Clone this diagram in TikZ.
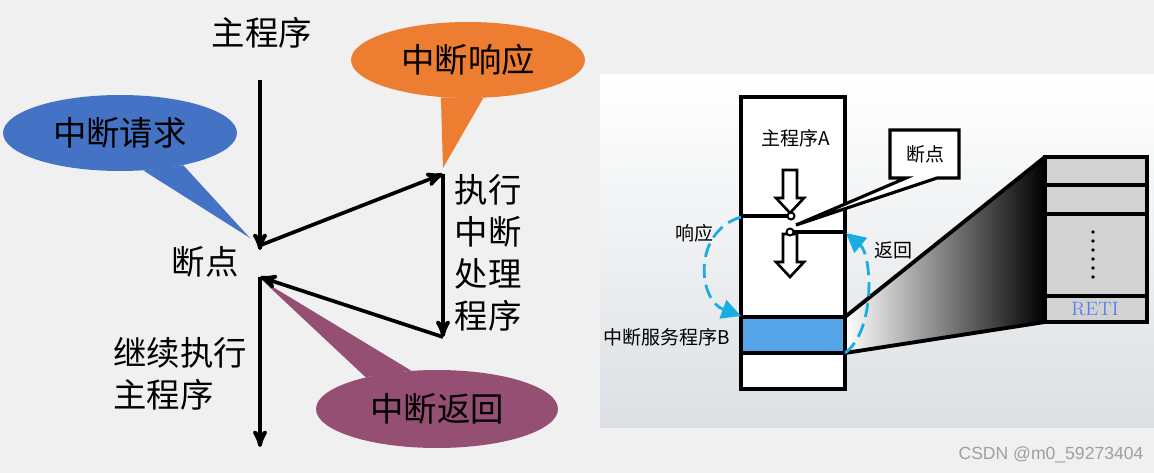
\documentclass[tikz,border=0pt]{standalone}
\usepackage{fontspec}
\newfontfamily\cjk{Noto Sans CJK SC}
\newfontfamily\wmfont{Liberation Sans}
\usetikzlibrary{arrows}
\usetikzlibrary{arrows.meta}
\usetikzlibrary{positioning}
\usetikzlibrary{shapes.geometric}
\definecolor{bggray}{HTML}{F0F0F0}
\definecolor{reqblue}{HTML}{4472C4}
\definecolor{ackorange}{HTML}{ED7D31}
\definecolor{retpurple}{HTML}{954F72}
\definecolor{isrblue}{HTML}{55A5E8}
\definecolor{dashcyan}{HTML}{1AADE4}
\definecolor{stackgray}{HTML}{D2D2D2}
\definecolor{retiblue}{HTML}{5B7FE6}
\definecolor{panelbot}{HTML}{DCE0E4}

\begin{document}
\begin{tikzpicture}[x=0.02cm, y=-0.02cm, >=stealth',
    big/.style={font=\cjk\fontsize{19}{23.8}\selectfont, inner sep=0pt},
    small/.style={font=\cjk\fontsize{10.8}{13}\selectfont, inner sep=0pt},
    bubble/.style={ellipse, minimum width=4.68cm, minimum height=1.52cm,
      inner sep=0pt, font=\cjk\fontsize{19}{23}\selectfont},
    flow/.style={line width=2.1pt, ->},
    thickline/.style={line width=2.2pt},
    dasharc/.style={dashcyan, line width=1.6pt, dash pattern=on 8pt off 4pt,
      -{Triangle[length=11pt,width=11pt]}}]
  \useasboundingbox (0,0) rectangle (1154,473);
  \fill[bggray] (0,0) rectangle (1154,473);
  \shade[top color=white, bottom color=panelbot] (600,75) rectangle (1154,427);

  % left: flow of the main program
  \node[bubble, fill=reqblue] (req) at (120,133) {中断请求};
  \coordinate (reqtip) at (250,238);
  \fill[reqblue] (req.-58) -- (reqtip) -- (req.-27) -- cycle;
  \node[bubble, fill=ackorange] (ack) at (468,60) {中断响应};
  \coordinate (acktip) at (443,168);
  \fill[ackorange] (ack.-126) -- (acktip) -- (ack.-68) -- cycle;
  \node[bubble, fill=retpurple, minimum width=4.84cm, minimum height=1.56cm] (ret) at (437,409) {中断返回};
  \coordinate (rettip) at (263,281);
  \fill[retpurple] (ret.156) -- (rettip) -- (ret.124) -- cycle;

  \node[big] (mainprog) at (262,33) {主程序};
  \node[big] (bp) at (205,262) {断点};
  \node[big, align=left] (isr) at (488,253) {执行\\中断\\处理\\程序};
  \node[big, align=left, anchor=west] (cont) at (113,374) {继续执行\\主程序};

  \coordinate (start) at (260,80);
  \coordinate (brk) at (260,250);
  \coordinate (leave) at (261,245);
  \coordinate (isrtop) at (443,174);
  \coordinate (isrbot) at (443,337);
  \coordinate (resume) at (260,277);
  \coordinate (finish) at (260,447);
  \draw[flow] (start) -- (brk);
  \draw[flow] (leave) -- (isrtop);
  \draw[flow] (isrtop) -- (isrbot);
  \draw[flow] (isrbot) -- (resume);
  \draw[flow] (resume) -- (finish);

  % right: memory picture
  \coordinate (colNW) at (741,97);
  \coordinate (colSE) at (845,389);
  \coordinate (isrNW) at (741,317);
  \coordinate (isrNE) at (845,317);
  \coordinate (isrSE) at (845,353);
  \coordinate (stackNW) at (1045,157);
  \coordinate (stackSW) at (1045,322);
  \coordinate (stackSE) at (1147,322);
  \shade[left color=white, right color=black] (isrNE) -- (stackNW) -- (stackSW) -- (isrSE) -- cycle;
  \draw[thickline] (isrNE) -- (stackNW);
  \draw[thickline] (isrSE) -- (stackSW);

  \draw[thickline, fill=white] (colNW) rectangle (colSE);
  \draw[thickline, fill=isrblue] (isrNW) rectangle (isrSE);

  \draw[thickline, fill=stackgray] (stackNW) rectangle (stackSE);
  \foreach \yy in {185,214,296}
    \draw[thickline] (1045,\yy) -- (1147,\yy);
  \foreach \yy in {232,241,250,259,268,277}
    \fill (1093,\yy) circle (1.1pt);
  \node[font=\fontsize{11}{13}\selectfont, text=retiblue, inner sep=0pt] (reti) at (1095,309) {RETI};

  \foreach \tip in {213,277}
    \draw[line width=1.5pt, fill=white] (783,{\tip-43}) -- (797,{\tip-43}) -- (797,{\tip-15})
      -- (804,{\tip-15}) -- (790,\tip) -- (776,{\tip-15}) -- (783,{\tip-15}) -- cycle;

  \draw[line width=1.8pt, fill=white] (890,130) -- (959,130) -- (959,178) -- (937,178)
    -- (796,225) -- (906,178) -- (890,178) -- cycle;
  \node[small] (bpnote) at (925,154) {断点};

  \node[circle, draw, line width=1.1pt, fill=white, inner sep=0pt, minimum size=0.14cm] (bkA) at (791,216) {};
  \node[circle, draw, line width=1.1pt, fill=white, inner sep=0pt, minimum size=0.14cm] (bkB) at (790,232) {};
  \draw[thickline] (741,216) -- (bkA.west);
  \draw[thickline] (bkB.east) -- (845,232);

  \coordinate (ackS) at (741,217);
  \coordinate (ackE) at (741,316);
  \coordinate (retS) at (845,353);
  \coordinate (retE) at (846,233);
  \draw[dasharc] (ackS) .. controls (692,232) and (698,300) .. (ackE);
  \draw[dasharc] (retS) .. controls (876,330) and (872,255) .. (retE);

  \node[small] (progA) at (796,138) {主程序A};
  \node[small] (isrB) at (667,337) {中断服务程序B};
  \node[small] (ackR) at (694,233) {响应};
  \node[small] (retR) at (893,250) {返回};

  \node[font=\wmfont\fontsize{10}{12}\selectfont, text=gray!75, inner sep=0pt] (wm) at (1051,455) {CSDN @m0\_59273404};
\end{tikzpicture}
\end{document}
